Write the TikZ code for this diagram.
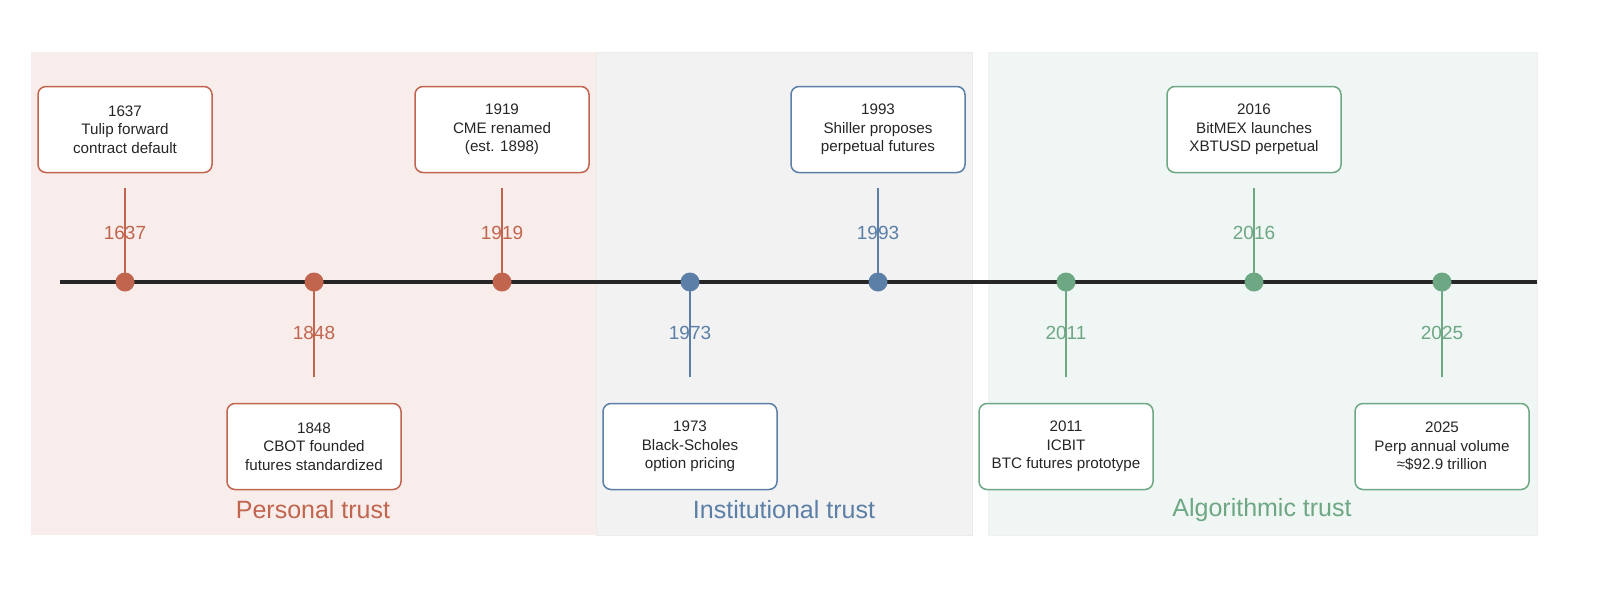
\documentclass[tikz,border=0pt]{standalone}
\usepackage{fontspec}
\setmainfont{Liberation Sans}
\definecolor{cr}{HTML}{C1654F}
\definecolor{cb}{HTML}{5B7FA6}
\definecolor{cg}{HTML}{6DA784}
\begin{document}%
\begin{tikzpicture}[x=0.5pt,y=-0.5pt,
 box/.style={draw=#1,line width=0.75pt,fill=white,rounded corners=4pt,minimum width=87pt,minimum height=43pt,align=center,font=\fontsize{7.6}{9.2}\selectfont,text=black!85},
 yr/.style={text=#1,font=\fontsize{9.5}{11}\selectfont},
 dot/.style={circle,fill=#1,inner sep=0pt,minimum size=9.5pt},
 stem/.style={draw=#1,line width=0.6pt},
 band/.style={font=\fontsize{12.5}{14}\selectfont,text=#1}]
\fill[cr!12] (31,52) rectangle (596,535);
\draw[black!8,fill=black!5] (596,52) rectangle (972,535);
\draw[black!6,fill=cg!10] (988,52) rectangle (1537,535);
\node[band=cr] (bp) at (313,510) {Personal trust};
\node[band=cb] (bi) at (784,510) {Institutional trust};
\node[band=cg] (ba) at (1262,510) {Algorithmic trust};
\draw[line width=2pt,black!85] (60,282) -- (1537,282);
\foreach \n/\x/\c/\t in {a/125/cr/{1637\\Tulip forward\\contract default},c/502/cr/{1919\\CME renamed\\(est. 1898)},e/878/cb/{1993\\Shiller proposes\\perpetual futures},g/1254/cg/{2016\\BitMEX launches\\XBTUSD perpetual}}{%
 \coordinate (t\n) at (\x,188);
 \draw[stem=\c] (t\n) -- (\x,282);
 \node[box=\c] (b\n) at (\x,129.5) {\t};
}
\foreach \n/\x/\c/\t in {b/314/cr/{1848\\CBOT founded\\futures standardized},d/690/cb/{1973\\Black-Scholes\\option pricing},f/1066/cg/{2011\\ICBIT\\BTC futures prototype},h/1442/cg/{2025\\Perp annual volume\\≈\$92.9 trillion}}{%
 \coordinate (t\n) at (\x,377);
 \draw[stem=\c] (\x,282) -- (t\n);
 \node[box=\c] (b\n) at (\x,446.5) {\t};
}
\foreach \n/\x/\c/\y in {a/125/cr/1637,c/502/cr/1919,e/878/cb/1993,g/1254/cg/2016}{%
 \node[yr=\c] (y\n) at (\x,233) {\y};}
\foreach \n/\x/\c/\y in {b/314/cr/1848,d/690/cb/1973,f/1066/cg/2011,h/1442/cg/2025}{%
 \node[yr=\c] (y\n) at (\x,333) {\y};}
\foreach \n/\x/\c in {a/125/cr,b/314/cr,c/502/cr,d/690/cb,e/878/cb,f/1066/cg,g/1254/cg,h/1442/cg}{%
 \node[dot=\c] (d\n) at (\x,282) {};}
\pgfresetboundingbox
\useasboundingbox (0,0) rectangle (1600,600);
\end{tikzpicture}%
\end{document}
